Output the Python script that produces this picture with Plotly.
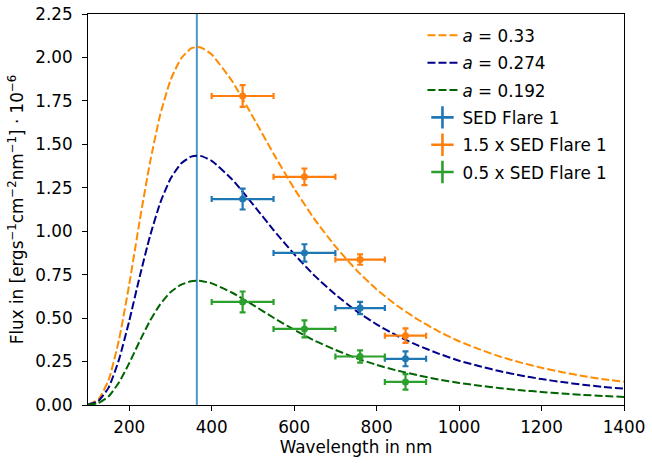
import plotly.graph_objects as go

# Model curves, wavelength in nm
wl = [100, 125, 150, 175, 200, 225, 250, 275, 300, 325, 350, 364, 375, 400, 450, 500, 550,
      600, 650, 700, 750, 800, 850, 900, 950, 1000, 1050, 1100, 1150, 1200, 1250, 1300, 1350, 1400]
flux_a033 = [0.003, 0.032, 0.144, 0.373, 0.694, 1.055, 1.391, 1.669, 1.868, 1.992, 2.052, 2.060,
             2.056, 2.017, 1.862, 1.658, 1.446, 1.246, 1.067, 0.913, 0.779, 0.665, 0.571, 0.492,
             0.424, 0.367, 0.320, 0.278, 0.244, 0.214, 0.189, 0.167, 0.148, 0.134]
flux_a0274 = [0.002, 0.023, 0.100, 0.260, 0.484, 0.735, 0.969, 1.162, 1.302, 1.388, 1.429, 1.435,
              1.432, 1.405, 1.297, 1.155, 1.007, 0.868, 0.743, 0.636, 0.542, 0.464, 0.398, 0.343,
              0.296, 0.255, 0.223, 0.194, 0.170, 0.149, 0.132, 0.117, 0.104, 0.094]
flux_a0192 = [0.001, 0.011, 0.050, 0.129, 0.241, 0.366, 0.483, 0.579, 0.649, 0.691, 0.712, 0.715,
              0.714, 0.700, 0.646, 0.576, 0.502, 0.433, 0.370, 0.317, 0.270, 0.231, 0.198, 0.171,
              0.147, 0.127, 0.111, 0.097, 0.085, 0.075, 0.066, 0.058, 0.052, 0.046]
curve_labels = ["<i>a</i> = 0.33", "<i>a</i> = 0.274", "<i>a</i> = 0.192"]
curve_colors = ["#ff8c00", "#00008b", "#006400"]

# SED points
band_center = [475, 625, 760, 870]
band_half = [75, 75, 60, 50]
sed_flare1 = [1.185, 0.875, 0.558, 0.266]
sed_flare1_x15 = [1.778, 1.313, 0.837, 0.399]
sed_flare1_x05 = [0.593, 0.438, 0.279, 0.133]
err_flare1 = [0.060, 0.050, 0.035, 0.043]
err_x15 = [0.063, 0.048, 0.030, 0.042]
err_x05 = [0.060, 0.049, 0.035, 0.045]
sed_labels = ["SED Flare 1", "1.5 x SED Flare 1", "0.5 x SED Flare 1"]
sed_colors = ["#1f77b4", "#ff7f0e", "#2ca02c"]

peak_wl = 364

x_ticks = [200, 400, 600, 800, 1000, 1200, 1400]
y_ticks = [0.0, 0.25, 0.5, 0.75, 1.0, 1.25, 1.5, 1.75, 2.0, 2.25]

FONT = "DejaVu Sans"
FS = 16.8

fig = go.Figure()

for i, (ys, lab, col) in enumerate(zip([flux_a033, flux_a0274, flux_a0192], curve_labels, curve_colors)):
    fig.add_trace(go.Scatter(
        x=wl, y=ys, mode="lines", name=lab, legendgroup=f"g{i}",
        line=dict(color=col, width=2, dash="8px,3px", shape="spline", smoothing=0.5),
    ))

for j, (ys, es, lab, col) in enumerate(zip([sed_flare1, sed_flare1_x15, sed_flare1_x05],
                                          [err_flare1, err_x15, err_x05], sed_labels, sed_colors)):
    fig.add_trace(go.Scatter(
        x=band_center, y=ys, mode="markers", name=lab, legendgroup=f"s{j}", showlegend=False,
        marker=dict(color=col, size=7, symbol="circle"),
        error_x=dict(type="data", array=band_half, color=col, thickness=2.2, width=3),
        error_y=dict(type="data", array=es, color=col, thickness=2.2, width=3),
    ))
    # legend entry (errorbar-like cross symbol)
    fig.add_trace(go.Scatter(
        x=[None], y=[None], mode="markers", name=lab, legendgroup=f"s{j}",
        marker=dict(color=col, size=17, symbol="cross-thin-open", line=dict(color=col, width=2.6)),
    ))

fig.add_vline(x=peak_wl, line=dict(color="#4b97cc", width=2), layer="below")

axis_common = dict(
    showline=True, linecolor="black", linewidth=1.1, mirror=True,
    ticks="outside", ticklen=5, tickwidth=1.1, tickcolor="black",
    showgrid=False, zeroline=False, automargin=False, ticklabeloverflow="allow",
    tickfont=dict(family=FONT, size=FS, color="black"),
)

fig.update_layout(
    width=652, height=465,
    margin=dict(l=88, r=28, t=14, b=60),
    paper_bgcolor="white", plot_bgcolor="white",
    font=dict(family=FONT, size=FS, color="black"),
    xaxis=dict(range=[100, 1400], tickvals=x_ticks, ticklabelstandoff=2,
               title=dict(text="Wavelength in nm", font=dict(family=FONT, size=FS), standoff=3),
               **axis_common),
    yaxis=dict(range=[0, 2.25], tickvals=y_ticks, tickformat=".2f", ticklabelstandoff=6,
               title=dict(text="Flux in [ergs<sup>−1</sup>cm<sup>−2</sup>nm<sup>−1</sup>] · 10<sup>−6</sup>",
                          font=dict(family=FONT, size=FS), standoff=7),
               **axis_common),
    legend=dict(x=0.624, y=0.99, xanchor="left", yanchor="top", bgcolor="rgba(0,0,0,0)",
                font=dict(family=FONT, size=FS), tracegroupgap=2.5, itemwidth=30),
    showlegend=True,
)

# remove the browser's default 8px body margin so the figure fills the window exactly
fig.write_html("out.html", config={"displayModeBar": False},
               post_script="document.body.style.margin='0';")
